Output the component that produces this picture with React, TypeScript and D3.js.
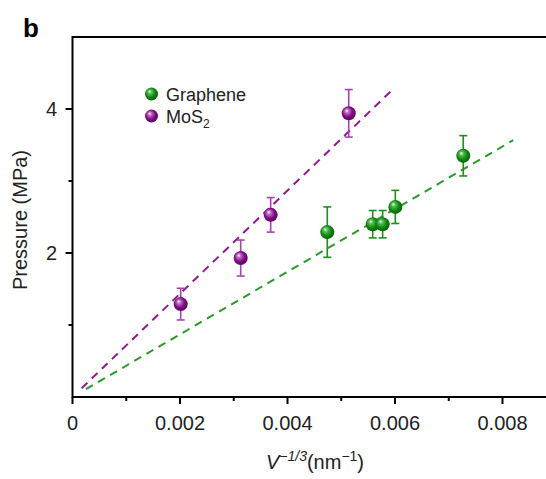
import React, { useEffect, useRef } from 'react';
import * as d3 from 'd3';

// Graphene points
const grapheneX = [0.00474, 0.005585, 0.00577, 0.006006, 0.00727];
const grapheneY = [2.29, 2.4, 2.4, 2.64, 3.35];
const grapheneErr = [0.35, 0.19, 0.19, 0.23, 0.28];

// MoS2 points
const mos2X = [0.002013, 0.003129, 0.003687, 0.005139];
const mos2Y = [1.29, 1.93, 2.53, 3.94];
const mos2Err = [0.22, 0.25, 0.24, 0.33];

// linear fits through origin: [slope, xStart, xEnd]
const grapheneFit = [435, 0.00025, 0.0082];
const mos2Fit = [717, 0.00017, 0.00594];

const xMajorTicks = [0, 0.002, 0.004, 0.006, 0.008];
const xMinorTicks = [0.001, 0.003, 0.005, 0.007, 0.009];
const yMajorTicks = [2, 4];
const yMinorTicks = [1, 3];

const font = 'Liberation Sans, Arial, sans-serif';

const App = () => {
  const ref = useRef<SVGSVGElement>(null);

  useEffect(() => {
    const svg = d3.select(ref.current);
    svg.selectAll('*').remove();

    const x = d3.scaleLinear().domain([0, 0.0092]).range([72.5, 72.5 + 0.0092 * 53750]);
    const y = d3.scaleLinear().domain([0, 5]).range([397, 37]);

    const defs = svg.append('defs');
    const grad = (id: string, light: string, mid: string, dark: string) => {
      const g = defs.append('radialGradient').attr('id', id)
        .attr('cx', '0.45').attr('cy', '0.45').attr('r', '0.6')
        .attr('fx', '0.35').attr('fy', '0.3');
      g.append('stop').attr('offset', '0%').attr('stop-color', '#ffffff');
      g.append('stop').attr('offset', '22%').attr('stop-color', light);
      g.append('stop').attr('offset', '60%').attr('stop-color', mid);
      g.append('stop').attr('offset', '100%').attr('stop-color', dark);
    };
    grad('gGreen', '#5cc05c', '#0f8a0f', '#055a05');
    grad('gPurple', '#c070c4', '#820c86', '#520456');

    // fits
    const fits = [
      { f: grapheneFit, c: '#2a9a2a' },
      { f: mos2Fit, c: '#8e1a8e' },
    ];
    fits.forEach(({ f, c }) => {
      svg.append('line')
        .attr('x1', x(f[1])).attr('y1', y(f[0] * f[1]))
        .attr('x2', x(f[2])).attr('y2', y(f[0] * f[2]))
        .attr('stroke', c).attr('stroke-width', 2)
        .attr('stroke-dasharray', '8,6');
    });

    const series = [
      { xs: grapheneX, ys: grapheneY, es: grapheneErr, bar: '#1f8d1f', fill: 'url(#gGreen)' },
      { xs: mos2X, ys: mos2Y, es: mos2Err, bar: '#a545ab', fill: 'url(#gPurple)' },
    ];
    series.forEach((s) => {
      const pts = s.xs.map((v, i) => ({ x: v, y: s.ys[i], e: s.es[i] }));
      const g = svg.append('g');
      const eb = g.selectAll('g.eb').data(pts).enter().append('g')
        .attr('stroke', s.bar).attr('stroke-width', 1.6);
      eb.append('line')
        .attr('x1', (d) => x(d.x)).attr('x2', (d) => x(d.x))
        .attr('y1', (d) => y(d.y + d.e)).attr('y2', (d) => y(d.y - d.e));
      eb.append('line')
        .attr('x1', (d) => x(d.x) - 4).attr('x2', (d) => x(d.x) + 4)
        .attr('y1', (d) => y(d.y + d.e)).attr('y2', (d) => y(d.y + d.e));
      eb.append('line')
        .attr('x1', (d) => x(d.x) - 4).attr('x2', (d) => x(d.x) + 4)
        .attr('y1', (d) => y(d.y - d.e)).attr('y2', (d) => y(d.y - d.e));
      g.selectAll('circle').data(pts).enter().append('circle')
        .attr('cx', (d) => x(d.x)).attr('cy', (d) => y(d.y))
        .attr('r', 7).attr('fill', s.fill);
    });

    // frame
    svg.append('path')
      .attr('d', `M${x(0.0092)},${y(5)}H${x(0)}V${y(0)}H${x(0.0092)}`)
      .attr('fill', 'none').attr('stroke', '#000').attr('stroke-width', 2);

    // x ticks
    const xa = svg.append('g');
    xa.selectAll('line.maj').data(xMajorTicks).enter().append('line')
      .attr('x1', (d) => x(d)).attr('x2', (d) => x(d))
      .attr('y1', y(0)).attr('y2', y(0) + 7)
      .attr('stroke', '#000').attr('stroke-width', 2);
    xa.selectAll('line.min').data(xMinorTicks).enter().append('line')
      .attr('x1', (d) => x(d)).attr('x2', (d) => x(d))
      .attr('y1', y(0)).attr('y2', y(0) + 4)
      .attr('stroke', '#000').attr('stroke-width', 2);
    xa.selectAll('text').data(xMajorTicks).enter().append('text')
      .attr('x', (d) => x(d)).attr('y', 430)
      .attr('text-anchor', 'middle')
      .attr('font-family', font).attr('font-size', 20).attr('fill', '#222')
      .text((d) => (d === 0 ? '0' : d3.format('.3f')(d)));

    // y ticks
    const ya = svg.append('g');
    ya.selectAll('line.maj').data(yMajorTicks).enter().append('line')
      .attr('x1', x(0) - 7).attr('x2', x(0))
      .attr('y1', (d) => y(d)).attr('y2', (d) => y(d))
      .attr('stroke', '#000').attr('stroke-width', 2);
    ya.selectAll('line.min').data(yMinorTicks).enter().append('line')
      .attr('x1', x(0) - 4).attr('x2', x(0))
      .attr('y1', (d) => y(d)).attr('y2', (d) => y(d))
      .attr('stroke', '#000').attr('stroke-width', 2);
    ya.selectAll('text').data(yMajorTicks).enter().append('text')
      .attr('x', 57).attr('y', (d) => y(d)).attr('dy', '0.36em')
      .attr('text-anchor', 'end')
      .attr('font-family', font).attr('font-size', 20).attr('fill', '#222')
      .text((d) => String(d));

    // axis titles
    svg.append('text')
      .attr('transform', 'translate(27,220) rotate(-90)')
      .attr('text-anchor', 'middle')
      .attr('font-family', font).attr('font-size', 20).attr('fill', '#222')
      .text('Pressure (MPa)');

    const xt = svg.append('text')
      .attr('x', 315).attr('y', 469)
      .attr('text-anchor', 'middle')
      .attr('font-family', font).attr('font-size', 20).attr('fill', '#222');
    xt.append('tspan').attr('font-style', 'italic').text('V');
    xt.append('tspan').attr('font-style', 'italic').attr('font-size', 14).attr('dy', -8).text('\u22121/3');
    xt.append('tspan').attr('dy', 8).text('(nm');
    xt.append('tspan').attr('font-size', 14).attr('dy', -8).text('\u22121');
    xt.append('tspan').attr('dy', 8).text(')');

    // panel label
    svg.append('text')
      .attr('x', 23).attr('y', 37)
      .attr('font-family', font).attr('font-size', 26).attr('font-weight', 'bold')
      .text('b');

    // legend
    const legend = [
      { label: 'Graphene', fill: 'url(#gGreen)', sub: '' },
      { label: 'MoS', fill: 'url(#gPurple)', sub: '2' },
    ];
    legend.forEach((l, i) => {
      const cy = 94 + i * 22;
      svg.append('circle').attr('cx', 151.5).attr('cy', cy).attr('r', 6.5).attr('fill', l.fill);
      const t = svg.append('text')
        .attr('x', 166).attr('y', cy + 6.5)
        .attr('font-family', font).attr('font-size', 18).attr('fill', '#222')
        .text(l.label);
      if (l.sub) t.append('tspan').attr('font-size', 12).attr('dy', 5).text(l.sub);
    });
  }, []);

  return (
    <svg ref={ref} width={546} height={479}
      style={{ position: 'absolute', left: 0, top: 0, background: '#fff' }} />
  );
};

export default App;
